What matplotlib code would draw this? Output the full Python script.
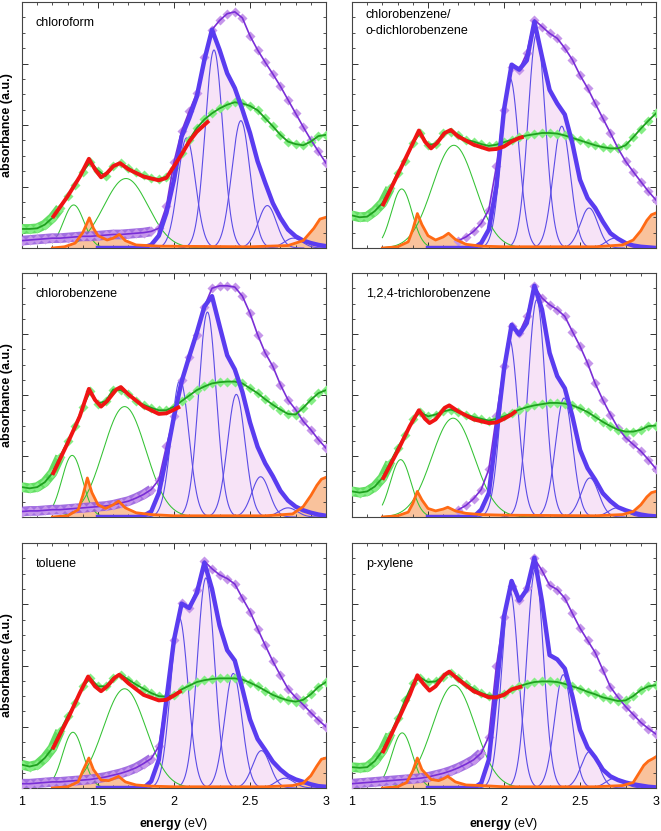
import matplotlib
matplotlib.use("Agg")
import matplotlib.pyplot as plt
import numpy as np
from matplotlib.ticker import MultipleLocator, FormatStrFormatter

plt.rcParams.update({
    "font.family": ["Liberation Sans", "DejaVu Sans"],
    "font.size": 9,
    "mathtext.fontset": "custom",
    "mathtext.rm": "Liberation Sans",
    "mathtext.bf": "Liberation Sans:bold",
    "axes.linewidth": 0.8,
})

nan = np.nan

# energy grids (eV)
E_GRID = np.round(np.arange(1.0, 3.0001, 0.05), 2)   # measured spectra
E_ENV = np.round(np.arange(1.5, 3.0001, 0.05), 2)    # blue envelope

# ---------------- chloroform ----------------
CHF_GREEN = [0.31, 0.31, 0.32, 0.38, 0.49, 0.65, 0.84, 1.03, 1.24, 1.40,
             1.26, 1.17, 1.33, 1.38, 1.30, 1.23, 1.18, 1.14, 1.12, 1.16,
             1.30, 1.54, 1.76, 1.95, 2.09, 2.19, 2.27, 2.33, 2.37, 2.35,
             2.31, 2.24, 2.11, 1.98, 1.84, 1.73, 1.69, 1.67, 1.73, 1.82, 1.84]
CHF_PURPLE = [0.12, 0.13, 0.14, 0.15, 0.16, 0.16, 0.17, 0.18, 0.19, 0.19,
              0.20, 0.21, 0.22, 0.22, 0.23, 0.24, 0.25, 0.27, 0.32, 0.68,
              1.40, 1.90, 2.22, 2.52, 3.10, 3.55, 3.70, 3.81, 3.84, 3.74,
              3.45, 3.22, 3.02, 2.83, 2.63, 2.41, 2.19, 1.97, 1.76, 1.57, 1.38]
CHF_ENV = [0, 0, 0, 0, 0, 0, 0.01, 0.05, 0.20, 0.57, 1.11, 1.81, 2.11, 2.46,
           3.06, 3.55, 3.22, 2.84, 2.60, 2.25, 1.87, 1.41, 1.06, 0.73, 0.49,
           0.30, 0.19, 0.12, 0.08, 0.05, 0.03]
CHF_RED_E = [1.20, 1.30, 1.38, 1.44, 1.48, 1.52, 1.56, 1.60, 1.645, 1.70,
             1.80, 1.90, 1.95, 2.00, 2.05, 2.10, 2.15, 2.23]
CHF_RED_Y = [0.49, 0.84, 1.16, 1.45, 1.28, 1.15, 1.22, 1.33, 1.38, 1.28,
             1.16, 1.10, 1.14, 1.33, 1.52, 1.73, 1.89, 2.07]
CHF_ORANGE_E = [1.20, 1.28, 1.35, 1.40, 1.443, 1.47, 1.50, 1.56, 1.60, 1.64,
                1.68, 1.75, 1.90, 2.50, 2.75, 2.85, 2.92, 2.96, 3.00]
CHF_ORANGE_Y = [0.0, 0.02, 0.08, 0.25, 0.49, 0.32, 0.20, 0.13, 0.16, 0.22,
                0.12, 0.05, 0.03, 0.02, 0.04, 0.12, 0.32, 0.47, 0.50]
CHF_GREEN_PEAKS = [(1.34, 0.70, 0.068), (1.684, 1.13, 0.145)]
CHF_BLUE_PEAKS = [(2.083, 1.79, 0.058), (2.263, 3.22, 0.058), (2.44, 2.07, 0.06),
                  (2.614, 0.69, 0.06), (2.785, 0.16, 0.06)]

# ---------------- chlorobenzene / o-dichlorobenzene ----------------
CBD_GREEN = [0.53, 0.50, 0.51, 0.60, 0.73, 0.97, 1.22, 1.41, 1.71, 1.87,
             1.68, 1.69, 1.87, 1.89, 1.84, 1.76, 1.73, 1.69, 1.66, 1.68,
             1.72, 1.76, 1.80, 1.83, 1.85, 1.87, 1.87, 1.86, 1.83, 1.79,
             1.75, 1.71, 1.67, 1.64, 1.62, 1.62, 1.67, 1.80, 1.94, 2.07, 2.19]
CBD_PURPLE = [nan] * 14 + [0.12, 0.18, 0.27, 0.40, 0.62, 1.33, 2.25, 2.95,
                           2.90, 3.17, 3.71, 3.60, 3.49, 3.41, 3.25, 3.06,
                           2.81, 2.60, 2.35, 2.11, 1.87, 1.62, 1.41, 1.24,
                           1.08, 0.92, 0.78]
CBD_ENV = [0, 0, 0, 0, 0, 0, 0, 0.08, 0.30, 1.00, 2.25, 2.98, 2.90, 3.05,
           3.68, 3.11, 2.57, 2.35, 2.17, 1.70, 1.11, 0.81, 0.65, 0.43, 0.24,
           0.15, 0.08, 0.04, 0.02, 0.01, 0.0]
CBD_RED_E = [1.20, 1.30, 1.38, 1.44, 1.48, 1.52, 1.56, 1.61, 1.65, 1.70,
             1.80, 1.90, 1.95, 2.00, 2.05, 2.10, 2.13]
CBD_RED_Y = [0.68, 1.19, 1.60, 1.91, 1.73, 1.62, 1.71, 1.87, 1.92, 1.81,
             1.68, 1.60, 1.61, 1.65, 1.73, 1.79, 1.81]
CBD_ORANGE_E = [1.20, 1.30, 1.37, 1.40, 1.43, 1.46, 1.50, 1.55, 1.60, 1.635,
                1.68, 1.75, 1.85, 2.0, 2.6, 2.78, 2.85, 2.90, 2.94, 2.97, 3.0]
CBD_ORANGE_Y = [0.0, 0.02, 0.10, 0.30, 0.56, 0.38, 0.20, 0.13, 0.18, 0.24,
                0.14, 0.06, 0.03, 0.02, 0.02, 0.05, 0.13, 0.28, 0.45, 0.54, 0.57]
CBD_GREEN_PEAKS = [(1.327, 0.96, 0.068), (1.67, 1.67, 0.14)]
CBD_BLUE_PEAKS = [(2.04, 2.76, 0.057), (2.215, 3.49, 0.057), (2.38, 1.98, 0.057),
                  (2.56, 0.65, 0.058), (2.73, 0.16, 0.06)]

# ---------------- chlorobenzene ----------------
CB_GREEN = [0.49, 0.47, 0.49, 0.57, 0.72, 0.99, 1.24, 1.49, 1.81, 2.06,
            1.86, 1.90, 2.09, 2.08, 2.01, 1.90, 1.84, 1.79, 1.75, 1.75,
            1.81, 1.90, 1.99, 2.08, 2.14, 2.19, 2.21, 2.22, 2.22, 2.19,
            2.11, 2.03, 1.93, 1.84, 1.76, 1.69, 1.68, 1.79, 1.92, 2.03, 2.08]
CB_PURPLE = [0.09, 0.10, 0.10, 0.11, 0.12, 0.12, 0.13, 0.14, 0.15, 0.16,
             0.17, 0.18, 0.20, 0.23, 0.26, 0.31, 0.37, 0.45, 0.61, 1.16,
             1.65, 2.25, 2.63, 2.98, 3.45, 3.75, 3.79, 3.79, 3.77, 3.62,
             3.34, 2.99, 2.69, 2.47, 2.17, 1.92, 1.76, 1.57, 1.43, 1.27, 1.13]
CB_ENV = [0, 0, 0, 0, 0, 0, 0.02, 0.09, 0.39, 0.99, 1.65, 2.22, 2.63, 3.02,
          3.45, 3.62, 3.13, 2.65, 2.42, 2.05, 1.55, 1.15, 0.88, 0.67, 0.43,
          0.27, 0.17, 0.11, 0.07, 0.04, 0.02]
CB_RED_E = [1.20, 1.30, 1.38, 1.44, 1.48, 1.52, 1.56, 1.62, 1.65, 1.70,
            1.80, 1.90, 1.95, 2.00, 2.04]
CB_RED_Y = [0.69, 1.21, 1.65, 2.10, 1.92, 1.81, 1.90, 2.09, 2.13, 2.01,
            1.81, 1.69, 1.70, 1.76, 1.81]
CB_ORANGE_E = [1.20, 1.30, 1.37, 1.40, 1.43, 1.46, 1.50, 1.55, 1.60, 1.635,
               1.68, 1.75, 1.85, 2.0, 2.6, 2.78, 2.85, 2.90, 2.94, 2.97, 3.0]
CB_ORANGE_Y = [0.0, 0.02, 0.12, 0.35, 0.64, 0.40, 0.20, 0.14, 0.20, 0.26,
               0.15, 0.07, 0.04, 0.02, 0.02, 0.05, 0.17, 0.35, 0.52, 0.62, 0.65]
CB_GREEN_PEAKS = [(1.33, 1.01, 0.068), (1.675, 1.81, 0.14)]
CB_BLUE_PEAKS = [(2.04, 2.25, 0.058), (2.22, 3.36, 0.058), (2.41, 2.01, 0.058),
                 (2.57, 0.66, 0.058), (2.75, 0.15, 0.06)]

# ---------------- 1,2,4-trichlorobenzene ----------------
TCB_GREEN = [0.42, 0.40, 0.42, 0.50, 0.64, 0.89, 1.13, 1.35, 1.60, 1.72,
             1.65, 1.68, 1.73, 1.76, 1.72, 1.68, 1.64, 1.61, 1.58, 1.61,
             1.65, 1.70, 1.76, 1.80, 1.83, 1.85, 1.87, 1.87, 1.86, 1.83,
             1.78, 1.72, 1.64, 1.56, 1.49, 1.43, 1.40, 1.40, 1.43, 1.49, 1.50]
TCB_PURPLE = [nan] * 14 + [0.12, 0.19, 0.30, 0.45, 0.78, 1.65, 2.47, 3.13,
                           3.02, 3.29, 3.78, 3.59, 3.48, 3.40, 3.29, 3.04,
                           2.80, 2.52, 2.19, 1.92, 1.68, 1.46, 1.30, 1.19,
                           1.08, 0.94, 0.79]
TCB_ENV = [0, 0, 0, 0, 0, 0, 0, 0.12, 0.39, 1.38, 2.42, 3.15, 2.99, 3.18,
           3.79, 3.40, 2.69, 2.31, 2.11, 1.65, 1.10, 0.80, 0.61, 0.39, 0.26,
           0.16, 0.11, 0.07, 0.04, 0.02, 0.01]
TCB_RED_E = [1.20, 1.30, 1.38, 1.44, 1.48, 1.51, 1.55, 1.61, 1.64, 1.70,
             1.80, 1.90, 1.95, 2.00, 2.05, 2.08]
TCB_RED_Y = [0.61, 1.08, 1.49, 1.75, 1.61, 1.54, 1.60, 1.79, 1.83, 1.73,
             1.60, 1.54, 1.55, 1.61, 1.68, 1.74]
TCB_ORANGE_E = [1.20, 1.30, 1.37, 1.40, 1.43, 1.46, 1.50, 1.55, 1.60, 1.63,
                1.68, 1.75, 1.85, 2.0, 2.6, 2.78, 2.85, 2.90, 2.94, 2.97, 3.0]
TCB_ORANGE_Y = [0.0, 0.02, 0.08, 0.22, 0.42, 0.28, 0.14, 0.10, 0.13, 0.16,
                0.10, 0.06, 0.04, 0.03, 0.02, 0.04, 0.09, 0.20, 0.33, 0.40, 0.42]
TCB_GREEN_PEAKS = [(1.32, 0.94, 0.068), (1.665, 1.62, 0.14)]
TCB_BLUE_PEAKS = [(2.035, 2.92, 0.057), (2.215, 3.56, 0.057), (2.395, 1.95, 0.057),
                  (2.565, 0.64, 0.058), (2.745, 0.15, 0.06)]

# ---------------- toluene ----------------
TOL_GREEN = [0.38, 0.35, 0.38, 0.49, 0.65, 0.93, 1.17, 1.39, 1.66, 1.79,
             1.66, 1.66, 1.80, 1.85, 1.77, 1.69, 1.62, 1.55, 1.50, 1.49,
             1.52, 1.61, 1.67, 1.73, 1.76, 1.78, 1.79, 1.79, 1.79, 1.77,
             1.72, 1.66, 1.59, 1.52, 1.47, 1.43, 1.41, 1.44, 1.53, 1.65, 1.73]
TOL_PURPLE = [0.07, 0.07, 0.08, 0.09, 0.10, 0.10, 0.11, 0.12, 0.13, 0.14,
              0.16, 0.18, 0.21, 0.24, 0.28, 0.33, 0.40, 0.48, 0.68, 1.45,
              2.42, 3.02, 2.94, 3.24, 3.70, 3.58, 3.48, 3.42, 3.33, 3.10,
              2.88, 2.60, 2.33, 2.07, 1.84, 1.62, 1.48, 1.36, 1.23, 1.11, 1.00]
TOL_ENV = [0, 0, 0, 0, 0, 0, 0, 0.11, 0.46, 1.44, 2.42, 3.01, 2.94, 3.18,
           3.68, 3.25, 2.65, 2.25, 2.08, 1.62, 1.12, 0.80, 0.62, 0.43, 0.30,
           0.20, 0.14, 0.10, 0.06, 0.03, 0.02]
TOL_RED_E = [1.20, 1.30, 1.38, 1.435, 1.48, 1.52, 1.56, 1.61, 1.64, 1.70,
             1.80, 1.90, 1.95, 2.00, 2.05]
TOL_RED_Y = [0.63, 1.12, 1.55, 1.82, 1.66, 1.58, 1.66, 1.80, 1.85, 1.71,
             1.52, 1.43, 1.44, 1.51, 1.59]
TOL_ORANGE_E = [1.20, 1.30, 1.37, 1.40, 1.44, 1.47, 1.52, 1.57, 1.60, 1.635,
                1.68, 1.75, 1.85, 2.0, 2.6, 2.78, 2.85, 2.90, 2.94, 2.97, 3.0]
TOL_ORANGE_Y = [0.0, 0.02, 0.10, 0.28, 0.49, 0.30, 0.13, 0.12, 0.15, 0.19,
                0.10, 0.05, 0.03, 0.02, 0.02, 0.04, 0.08, 0.20, 0.36, 0.47, 0.49]
TOL_GREEN_PEAKS = [(1.335, 0.91, 0.068), (1.675, 1.62, 0.14)]
TOL_BLUE_PEAKS = [(2.035, 2.78, 0.057), (2.21, 3.43, 0.057), (2.39, 1.87, 0.057),
                  (2.575, 0.61, 0.058), (2.73, 0.16, 0.06)]

# ---------------- p-xylene ----------------
PX_GREEN = [0.34, 0.33, 0.34, 0.44, 0.61, 0.87, 1.14, 1.44, 1.71, 1.80,
            1.73, 1.74, 1.82, 1.88, 1.80, 1.70, 1.62, 1.55, 1.51, 1.50,
            1.54, 1.61, 1.66, 1.70, 1.73, 1.74, 1.74, 1.73, 1.70, 1.66,
            1.62, 1.57, 1.53, 1.48, 1.45, 1.42, 1.43, 1.50, 1.60, 1.66, 1.68]
PX_PURPLE = [0.07, 0.08, 0.09, 0.10, 0.11, 0.12, 0.13, 0.14, 0.15, 0.16,
             0.18, 0.21, 0.24, 0.28, 0.33, 0.39, 0.46, 0.57, 0.84, 1.99,
             2.80, 3.29, 3.07, 3.27, 3.75, 3.55, 3.31, 3.24, 3.10, 2.85,
             2.61, 2.41, 2.21, 1.93, 1.65, 1.48, 1.33, 1.20, 1.07, 0.97, 0.88]
PX_ENV = [0, 0, 0, 0, 0, 0, 0, 0.08, 0.46, 1.61, 2.80, 3.38, 3.06, 3.24,
          3.76, 3.05, 2.17, 2.10, 1.95, 1.50, 0.95, 0.66, 0.50, 0.30, 0.19,
          0.13, 0.09, 0.06, 0.04, 0.02, 0.01]
PX_RED_E = [1.20, 1.30, 1.38, 1.43, 1.47, 1.51, 1.55, 1.61, 1.64, 1.70,
            1.80, 1.90, 1.95, 2.00, 2.05, 2.12]
PX_RED_Y = [0.57, 1.09, 1.52, 1.84, 1.70, 1.59, 1.66, 1.85, 1.90, 1.77,
            1.58, 1.48, 1.48, 1.52, 1.61, 1.66]
PX_ORANGE_E = [1.20, 1.30, 1.36, 1.40, 1.43, 1.46, 1.52, 1.57, 1.60, 1.63,
               1.68, 1.75, 1.85, 2.0, 2.6, 2.78, 2.85, 2.92, 2.95, 2.98, 3.0]
PX_ORANGE_Y = [0.0, 0.02, 0.09, 0.28, 0.49, 0.30, 0.14, 0.12, 0.15, 0.19,
               0.10, 0.05, 0.04, 0.02, 0.02, 0.04, 0.09, 0.37, 0.44, 0.48, 0.51]
PX_GREEN_PEAKS = [(1.33, 0.90, 0.068), (1.67, 1.68, 0.14)]
PX_BLUE_PEAKS = [(2.04, 3.21, 0.055), (2.205, 3.56, 0.055), (2.39, 1.85, 0.057),
                 (2.566, 0.60, 0.058), (2.73, 0.16, 0.06)]

LABELS = ["chloroform", "chlorobenzene/\no-dichlorobenzene", "chlorobenzene",
          "1,2,4-trichlorobenzene", "toluene", "p-xylene"]

PANELS = [
    (CHF_GREEN, CHF_PURPLE, CHF_ENV, CHF_RED_E, CHF_RED_Y, CHF_ORANGE_E, CHF_ORANGE_Y, CHF_GREEN_PEAKS, CHF_BLUE_PEAKS),
    (CBD_GREEN, CBD_PURPLE, CBD_ENV, CBD_RED_E, CBD_RED_Y, CBD_ORANGE_E, CBD_ORANGE_Y, CBD_GREEN_PEAKS, CBD_BLUE_PEAKS),
    (CB_GREEN, CB_PURPLE, CB_ENV, CB_RED_E, CB_RED_Y, CB_ORANGE_E, CB_ORANGE_Y, CB_GREEN_PEAKS, CB_BLUE_PEAKS),
    (TCB_GREEN, TCB_PURPLE, TCB_ENV, TCB_RED_E, TCB_RED_Y, TCB_ORANGE_E, TCB_ORANGE_Y, TCB_GREEN_PEAKS, TCB_BLUE_PEAKS),
    (TOL_GREEN, TOL_PURPLE, TOL_ENV, TOL_RED_E, TOL_RED_Y, TOL_ORANGE_E, TOL_ORANGE_Y, TOL_GREEN_PEAKS, TOL_BLUE_PEAKS),
    (PX_GREEN, PX_PURPLE, PX_ENV, PX_RED_E, PX_RED_Y, PX_ORANGE_E, PX_ORANGE_Y, PX_GREEN_PEAKS, PX_BLUE_PEAKS),
]

C_GREEN_MK = "#85ee85"
C_GREEN_BAND = "#63de63"
C_GREEN = "#1fa01f"
C_GREEN_COMP = "#33c233"
C_PURPLE_MK = "#c596ea"
C_PURPLE_BAND = "#9256dc"
C_PURPLE = "#7a2ed6"
C_BLUE = "#5a3cf0"
C_BLUE_COMP = "#5b4ce6"
C_PINK = "#f7e3f7"
C_ORANGE = "#ff6a14"
C_ORANGE_FILL = "#f9c29c"
C_RED = "#f01414"

W, H = 661, 831
COL_X = [22, 352]
AX_W = 304
ROWS = [(2, 248), (273, 517), (543, 788)]


def gauss_line(ax, peak, lo, color, lw):
    c, h, s = peak
    x = np.linspace(max(lo, c - 4 * s), min(3.0, c + 4 * s), 200)
    ax.plot(x, h * np.exp(-0.5 * ((x - c) / s) ** 2), color=color, lw=lw, zorder=3)


def draw_panel(ax, data, label, band_green, band_purple):
    green, purple, env, red_e, red_y, or_e, or_y, gpk, bpk = data
    green = np.array(green, dtype=float)
    purple = np.array(purple, dtype=float)

    ax.fill_between(E_ENV, 0, env, color=C_PINK, lw=0, zorder=1)
    ax.fill_between(or_e, 0, or_y, color=C_ORANGE_FILL, lw=0, zorder=1.5)

    for p in bpk:
        gauss_line(ax, p, 1.8, C_BLUE_COMP, 0.8)
    for p in gpk:
        gauss_line(ax, p, 1.2, C_GREEN_COMP, 0.75)

    # measured spectra: dense low-energy samples show as a band
    low = E_GRID <= band_purple
    ax.plot(E_GRID[low], purple[low], color=C_PURPLE_BAND, lw=7, alpha=0.85,
            solid_capstyle="butt", zorder=3.5)
    ax.plot(E_GRID, purple, ls="none", marker="D", ms=4.8, mfc=C_PURPLE_MK,
            mec="none", zorder=3.6)
    ax.plot(E_GRID, purple, color=C_PURPLE, lw=1.2, zorder=4)

    low = E_GRID <= band_green
    ax.plot(E_GRID[low], green[low], color=C_GREEN_BAND, lw=7,
            solid_capstyle="butt", zorder=3.5)
    ax.plot(E_GRID, green, ls="none", marker="D", ms=4.8, mfc=C_GREEN_MK,
            mec="none", zorder=3.6)
    ax.plot(E_GRID, green, color=C_GREEN, lw=1.3, zorder=4)

    ax.plot(E_ENV, env, color=C_BLUE, lw=3.2, zorder=5, solid_joinstyle="round")
    ax.plot(or_e, or_y, color=C_ORANGE, lw=2.0, zorder=5.2)
    ax.plot(red_e, red_y, color=C_RED, lw=2.8, zorder=6, solid_capstyle="butt")

    ax.set_xlim(1, 3)
    ax.set_ylim(0, 4)
    ax.xaxis.set_major_locator(MultipleLocator(0.5))
    ax.xaxis.set_minor_locator(MultipleLocator(0.1))
    ax.yaxis.set_major_locator(MultipleLocator(1))
    ax.yaxis.set_minor_locator(MultipleLocator(0.25))
    ax.xaxis.set_major_formatter(FormatStrFormatter("%g"))
    ax.tick_params(which="both", direction="in", top=True, right=True,
                   labelleft=False, labelsize=9, pad=6, color="#333333")
    ax.tick_params(which="major", length=4.5, width=0.7)
    ax.tick_params(which="minor", length=2.5, width=0.6)
    for sp in ax.spines.values():
        sp.set_color("#444444")

    ax.text(0.045, 0.915, label, transform=ax.transAxes, ha="left", va="center",
            fontsize=9, linespacing=1.5, zorder=7)


fig = plt.figure(figsize=(W / 100, H / 100), dpi=100)

for i, (data, label) in enumerate(zip(PANELS, LABELS)):
    r, c = divmod(i, 2)
    top, bot = ROWS[r]
    ax = fig.add_axes([COL_X[c] / W, 1 - bot / H, AX_W / W, (bot - top) / H])
    has_band = not np.isnan(data[1][0])
    draw_panel(ax, data, label, 1.25, 1.85 if has_band else 0.0)
    if r < 2:
        ax.tick_params(labelbottom=False)
    else:
        ax.set_xlabel(r"$\mathbf{energy}$ (eV)", fontsize=9)
        ax.xaxis.set_label_coords(0.5, -0.115)
    if c == 0:
        ax.set_ylabel("absorbance (a.u.)", fontsize=9, fontweight="bold")
        ax.yaxis.set_label_coords(-0.028, 0.5)

fig.savefig("out.png", dpi=100)
